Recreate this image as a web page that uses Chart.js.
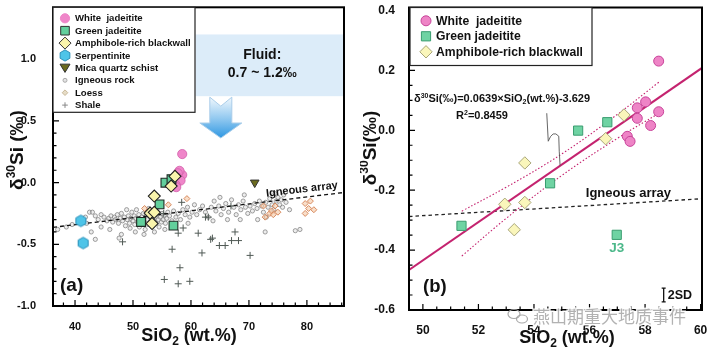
<!DOCTYPE html>
<html><head><meta charset="utf-8">
<script src="https://cdn.jsdelivr.net/npm/chart.js@4.4.1/dist/chart.umd.min.js"></script>
<style>
html,body{margin:0;padding:0;background:#fff;}
#wrap{position:relative;width:720px;height:350px;background:#fff;}
#ca{position:absolute;left:0;top:0;}
#cb{position:absolute;left:360px;top:0;}
</style></head><body>
<div id="wrap"><canvas id="ca" width="360" height="350"></canvas><canvas id="cb" width="360" height="350"></canvas></div>
<script>
// ---------------- DATA ----------------
const whiteSiO2 = [58.49, 58.49, 58.02, 57.72, 57.72, 58.20, 57.36, 57.46];
const whiteD    = [0.231, 0.062, 0.095, 0.075, 0.040, 0.016, -0.020, -0.037];
const greenSiO2 = [55.59, 56.64, 54.58, 51.39, 56.98];
const greenD    = [-0.001, 0.027, -0.177, -0.319, -0.349];
const amphSiO2  = [57.24, 56.58, 53.67, 52.95, 53.67, 53.29];
const amphD     = [0.051, -0.028, -0.109, -0.247, -0.241, -0.332];
const serpSiO2  = [41.0, 41.4];
const serpD     = [-0.31, -0.49];
const micaSiO2  = [71.0];
const micaD     = [0.0];
const igneousRock = [
 [37.0,-0.38],[38.5,-0.36],[39.5,-0.34],[42.0,-0.33],[42.5,-0.24],[43.0,-0.24],[43.5,-0.27],[44.0,-0.30],[44.5,-0.26],[45.0,-0.28],
 [43.5,-0.46],[44.5,-0.36],[45.5,-0.31],[42.8,-0.40],[41.8,-0.28],
 [45.8,-0.29],[46.2,-0.27],[46.5,-0.32],[46.8,-0.28],[47.0,-0.30],[47.3,-0.26],[47.5,-0.33],[47.8,-0.29],[48.0,-0.25],[48.2,-0.31],
 [48.5,-0.28],[48.7,-0.35],[48.9,-0.22],[49.0,-0.30],[49.2,-0.27],[49.4,-0.33],[49.6,-0.29],[49.8,-0.24],[48.0,-0.42],[47.6,-0.45],
 [46.0,-0.38],[49.5,-0.37],
 [50.0,-0.31],[50.2,-0.27],[50.3,-0.34],[50.5,-0.29],[50.6,-0.22],[50.8,-0.32],[51.0,-0.26],[51.1,-0.36],[51.3,-0.30],[51.5,-0.28],
 [51.6,-0.33],[51.8,-0.25],[52.0,-0.31],[52.1,-0.38],[52.3,-0.27],[52.5,-0.30],[52.6,-0.34],[52.8,-0.26],[53.0,-0.32],[53.1,-0.29],
 [53.3,-0.36],[53.5,-0.24],[53.6,-0.31],[53.8,-0.28],[54.0,-0.33],[54.2,-0.26],[54.4,-0.30],[54.5,-0.36],[54.7,-0.28],[54.9,-0.32],
 [55.0,-0.25],[55.2,-0.30],[55.4,-0.27],[55.6,-0.33],[55.8,-0.29],[56.0,-0.24],[50.4,-0.40],[51.9,-0.42],[53.7,-0.40],[55.5,-0.38],
 [52.7,-0.21],[54.1,-0.22],
 [56.3,-0.27],[56.7,-0.31],[57.0,-0.23],[57.4,-0.28],[57.8,-0.25],[58.2,-0.30],[58.6,-0.22],[59.0,-0.26],[59.4,-0.20],[59.8,-0.28],
 [60.2,-0.24],[60.6,-0.18],[61.0,-0.26],[61.5,-0.22],[57.2,-0.36],[59.5,-0.33],
 [62.0,-0.19],[62.5,-0.24],[63.0,-0.28],[63.5,-0.20],[64.0,-0.15],[64.3,-0.23],[64.8,-0.19],[65.2,-0.26],[65.6,-0.21],[66.0,-0.17],
 [66.5,-0.24],[67.0,-0.14],[67.4,-0.20],[67.8,-0.26],[68.2,-0.18],[68.6,-0.22],[69.0,-0.15],[69.4,-0.20],[69.8,-0.25],[66.3,-0.30],
 [68.5,-0.30],[69.2,-0.10],[65.0,-0.12],[63.8,-0.31],
 [70.2,-0.19],[70.6,-0.23],[71.0,-0.17],[71.4,-0.21],[71.8,-0.15],[72.2,-0.19],[72.5,-0.24],[72.9,-0.16],[73.3,-0.20],[73.6,-0.13],
 [74.0,-0.18],[74.3,-0.22],[74.7,-0.15],[75.0,-0.12],[75.3,-0.18],[75.6,-0.14],[76.0,-0.10],[76.4,-0.16],[73.0,-0.28],[72.8,-0.40],
 [78.0,-0.39],[78.8,-0.38],[77.0,-0.22],[71.5,-0.30],[74.5,-0.09],[75.8,-0.20]
];
const loess = [
 [52.0,-0.21],[56.1,-0.18],[59.3,-0.13],[72.5,-0.19],[72.8,-0.28],[73.6,-0.25],[73.9,-0.23],[74.2,-0.26],
 [74.5,-0.19],[75.0,-0.24],[79.7,-0.25],[79.7,-0.17],[80.3,-0.21],[80.6,-0.15],[81.2,-0.22]
];
const shale = [
 [48.2,-0.48],[56.75,-0.54],[58.1,-0.69],[55.4,-0.785],[57.8,-0.82],[59.8,-0.80],[61.9,-0.57],[70.2,-0.59],
 [58.65,-0.368],[57.8,-0.41],[61.25,-0.41],[63.4,-0.46],[63.7,-0.45],[64.9,-0.51],[65.9,-0.51],[67.0,-0.47],
 [68.2,-0.47],[67.6,-0.40],[63.0,-0.28],[58.4,-0.16],[62.5,-0.28],[66.9,-0.19],[55.3,-0.25]
];
// igneous array and regression lines (from equations)
const igneousArray = [0.00562, -0.566];      // slope, intercept
const regression   = [0.0639, -3.629];       // slope, intercept
const bandSiO2  = [51.4, 53.0, 55.0, 57.0, 58.5];
const bandUpper = [-0.270, -0.190, -0.079, 0.053, 0.161];
const bandLower = [-0.420, -0.294, -0.151, -0.027, 0.057];
// axes
const aXRange = [36.2, 86.4], aYRange = [-1.0, 1.42];
const bXRange = [49.5, 60.05], bYRange = [-0.6, 0.41];
const aXTicks = [40, 50, 60, 70, 80], aYTicks = [-1.0, -0.5, 0.0, 0.5, 1.0];
const bXTicks = [50, 52, 54, 56, 58, 60], bYTicks = [-0.6, -0.4, -0.2, 0.0, 0.2, 0.4];
// annotations (data units)
const fluidRange = [60.8, 0.7, 1.2];         // x start, y min, y max (‰)
const arrowPos = [65.15, 0.692, 0.361];      // x, top, bottom
const j3Index = 4;
const twoSD = [58.67, -0.55, 0.046];         // x, centre, length

// ---------------- HELPERS ----------------
const FONT = "'Liberation Sans', Arial, Helvetica, sans-serif";
const fnt = (s, w = 'bold') => `${w} ${s}px ${FONT}`;
const pts = (xs, ys) => xs.map((x, i) => ({x, y: ys[i]}));
const pairs = arr => arr.map(p => ({x: p[0], y: p[1]}));
const lineOf = (c, x0, x1) => [{x: x0, y: c[0] * x0 + c[1]}, {x: x1, y: c[0] * x1 + c[1]}];

function marker(ctx, type, x, y, r, fill, stroke, lw) {
  ctx.save(); ctx.beginPath();
  switch (type) {
    case 'circle': ctx.arc(x, y, r, 0, Math.PI * 2); break;
    case 'square': ctx.rect(x - r, y - r, 2 * r, 2 * r); break;
    case 'diamond': ctx.moveTo(x, y - r); ctx.lineTo(x + r, y); ctx.lineTo(x, y + r); ctx.lineTo(x - r, y); ctx.closePath(); break;
    case 'hex': for (let i = 0; i < 6; i++) { const t = -Math.PI / 2 + i * Math.PI / 3; const px = x + r * Math.cos(t), py = y + r * Math.sin(t); i ? ctx.lineTo(px, py) : ctx.moveTo(px, py); } ctx.closePath(); break;
    case 'triDown': ctx.moveTo(x - r, y - r * 0.75); ctx.lineTo(x + r, y - r * 0.75); ctx.lineTo(x, y + r * 0.9); ctx.closePath(); break;
    case 'plus': ctx.moveTo(x - r, y); ctx.lineTo(x + r, y); ctx.moveTo(x, y - r); ctx.lineTo(x, y + r); break;
  }
  if (fill && type !== 'plus') { ctx.fillStyle = fill; ctx.fill(); }
  if (stroke) { ctx.strokeStyle = stroke; ctx.lineWidth = lw || 1; ctx.stroke(); }
  ctx.restore();
}
function hexImage(r, fill, stroke) {
  const c = document.createElement('canvas'); const s = Math.ceil(2 * r + 3);
  c.width = s; c.height = s;
  marker(c.getContext('2d'), 'hex', s / 2, s / 2, r, fill, stroke, 1);
  return c;
}
function richWidth(ctx, parts) { let w = 0; for (const p of parts) { ctx.font = fnt(p.s); w += ctx.measureText(p.t).width; } return w; }
function drawRich(ctx, parts, x, y, align, color) {
  ctx.save(); ctx.fillStyle = color || '#111'; ctx.textAlign = 'left'; ctx.textBaseline = 'alphabetic';
  let cx = align === 'center' ? x - richWidth(ctx, parts) / 2 : x;
  for (const p of parts) { ctx.font = fnt(p.s); ctx.fillText(p.t, cx, y + (p.dy || 0)); cx += ctx.measureText(p.t).width; }
  ctx.restore();
}
function frameTicks(chart, xMinor, xMajor, yMinor, yMajor) {
  const {ctx, chartArea: a, scales: {x, y}} = chart;
  ctx.save(); ctx.strokeStyle = '#000'; ctx.lineWidth = 1.2; ctx.beginPath();
  const isMaj = (v, m) => Math.abs(v / m - Math.round(v / m)) < 1e-6;
  for (let i = Math.ceil(x.min / xMinor - 1e-9); i <= Math.floor(x.max / xMinor + 1e-9); i++) {
    const v = i * xMinor, px = x.getPixelForValue(v), L = isMaj(v, xMajor) ? 6 : 3.5;
    ctx.moveTo(px, a.bottom); ctx.lineTo(px, a.bottom - L);
  }
  for (let i = Math.ceil(y.min / yMinor - 1e-9); i <= Math.floor(y.max / yMinor + 1e-9); i++) {
    const v = i * yMinor, py = y.getPixelForValue(v), L = isMaj(v, yMajor) ? 6 : 3.5;
    ctx.moveTo(a.left, py); ctx.lineTo(a.left + L, py);
  }
  ctx.stroke();
  ctx.lineWidth = 2; ctx.strokeRect(a.left, a.top, a.right - a.left, a.bottom - a.top);
  ctx.restore();
}
function scaleOpts(range, ticks, fmt, size, pad, fit) {
  return {
    type: 'linear', min: range[0], max: range[1],
    afterBuildTicks: s => { s.ticks = ticks.map(v => ({value: v})); },
    afterFit: s => { fit(s); s.paddingTop = 0; s.paddingBottom = 0; s.paddingLeft = 0; s.paddingRight = 0; },
    grid: {display: false}, border: {display: false},
    ticks: {font: {family: FONT, weight: 'bold', size}, color: '#111', padding: pad, autoSkip: false, maxRotation: 0, callback: fmt}
  };
}
const common = {responsive: false, animation: false, events: [], plugins: {legend: {display: false}, tooltip: {enabled: false}}};

// ---------------- PANEL A ----------------
const pinkFill = '#ef86c9', pinkEdge = '#d35fab';
const greenFill = '#62cf9c', yellowFill = '#f9f4ac', cyanFill = '#4ec4e8', cyanEdge = '#2b8fb8', olive = '#6a6a1e';

const pluginA = {
  id: 'decorA',
  beforeDatasetsDraw(chart) {
    const {ctx, chartArea: a, scales: {x, y}} = chart;
    const x0 = x.getPixelForValue(fluidRange[0]), y0 = y.getPixelForValue(fluidRange[2]), y1 = y.getPixelForValue(fluidRange[1]);
    ctx.save(); ctx.fillStyle = '#dcecf9'; ctx.fillRect(x0, y0, a.right - x0, y1 - y0);
    ctx.fillStyle = '#111'; ctx.textAlign = 'center'; ctx.textBaseline = 'middle'; ctx.font = fnt(14);
    const tx = x.getPixelForValue(72.3);
    ctx.fillText('Fluid:', tx, y.getPixelForValue(1.032));
    ctx.fillText('0.7 ~ 1.2\u2030', tx, y.getPixelForValue(0.884));
    const cx = x.getPixelForValue(arrowPos[0]), top = y.getPixelForValue(arrowPos[1]), bot = y.getPixelForValue(arrowPos[2]);
    const g = ctx.createLinearGradient(0, top, 0, bot);
    g.addColorStop(0, '#f2f8fd'); g.addColorStop(0.55, '#8cc6ef'); g.addColorStop(1, '#2f97e2');
    ctx.beginPath();
    ctx.moveTo(cx - 11, top); ctx.lineTo(cx, top + 9); ctx.lineTo(cx + 11, top);
    ctx.lineTo(cx + 11, bot - 15); ctx.lineTo(cx + 21, bot - 15); ctx.lineTo(cx, bot);
    ctx.lineTo(cx - 21, bot - 15); ctx.lineTo(cx - 11, bot - 15); ctx.closePath();
    ctx.fillStyle = g; ctx.fill(); ctx.strokeStyle = '#a9cde9'; ctx.lineWidth = 1; ctx.stroke();
    ctx.restore();
  },
  afterDatasetsDraw(chart) {
    const {ctx, chartArea: a, scales: {x, y}} = chart;
    frameTicks(chart, 2, 10, 0.1, 0.5);
    const lx = 79.3, ly = igneousArray[0] * lx + igneousArray[1];
    const px = x.getPixelForValue(lx), py = y.getPixelForValue(ly);
    const ang = Math.atan2(y.getPixelForValue(igneousArray[0] * 80 + igneousArray[1]) - y.getPixelForValue(igneousArray[0] * 70 + igneousArray[1]), x.getPixelForValue(80) - x.getPixelForValue(70));
    ctx.save(); ctx.translate(px, py); ctx.rotate(ang); ctx.fillStyle = '#111'; ctx.font = fnt(11);
    ctx.textAlign = 'center'; ctx.textBaseline = 'alphabetic'; ctx.fillText('Igneous array', 0, -5); ctx.restore();
    ctx.save(); ctx.fillStyle = '#111'; ctx.font = fnt(19); ctx.textAlign = 'left'; ctx.textBaseline = 'middle';
    ctx.fillText('(a)', a.left + 7, a.bottom - 20); ctx.restore();
    const L = a.left, T = a.top, W = 142, H = 105;
    ctx.save(); ctx.fillStyle = '#fff'; ctx.fillRect(L, T, W, H); ctx.strokeStyle = '#222'; ctx.lineWidth = 1.2; ctx.strokeRect(L, T, W, H);
    const items = [
      ['circle', 4.6, pinkFill, pinkFill, 'White  jadeitite'],
      ['square', 4.3, greenFill, '#333', 'Green jadeitite'],
      ['diamond', 6, yellowFill, '#333', 'Amphibole-rich blackwall'],
      ['hex', 5.6, cyanFill, cyanEdge, 'Serpentinite'],
      ['triDown', 5, olive, '#333', 'Mica quartz schist'],
      ['circle', 2, '#e4e4e4', '#aaa', 'Igneous rock'],
      ['diamond', 2.8, '#e6dcc6', '#c9b99a', 'Loess'],
      ['plus', 2.8, null, '#888', 'Shale']
    ];
    items.forEach((it, i) => {
      const yy = T + 11 + i * 12.4;
      marker(ctx, it[0], L + 12, yy, it[1], it[2], it[3], 1);
      ctx.fillStyle = '#111'; ctx.font = fnt(9.6); ctx.textAlign = 'left'; ctx.textBaseline = 'middle';
      ctx.fillText(it[4], L + 22, yy + 0.5);
    });
    ctx.restore();
  },
  afterDraw(chart) {
    const {ctx} = chart;
    drawRich(ctx, [{t: 'SiO', s: 18}, {t: '2', s: 12, dy: 4}, {t: ' (wt.%)', s: 18}], 189, 341, 'center');
    ctx.save(); ctx.translate(16, 150); ctx.rotate(-Math.PI / 2);
    drawRich(ctx, [{t: '\u03b4', s: 19}, {t: '30', s: 12, dy: -8}, {t: 'Si (\u2030)', s: 19}], 0, 7, 'center');
    ctx.restore();
  }
};

new Chart(document.getElementById('ca'), {
  type: 'scatter',
  data: {datasets: [
    {data: lineOf(igneousArray, aXRange[0], aXRange[1]), showLine: true, borderColor: '#111', borderWidth: 1.3, borderDash: [4, 3], pointRadius: 0, order: 6},
    {data: pairs(igneousRock), pointStyle: 'circle', pointRadius: 2.1, backgroundColor: 'rgba(215,215,215,0.45)', borderColor: '#868686', borderWidth: 0.8, order: 9},
    {data: pairs(loess), pointStyle: 'rectRot', pointRadius: 3, backgroundColor: 'rgba(244,200,165,0.6)', borderColor: '#d88a5e', borderWidth: 1, order: 8},
    {data: pairs(shale), pointStyle: 'cross', pointRadius: 3.5, borderColor: '#505a55', borderWidth: 1, order: 7},
    {data: pts(whiteSiO2, whiteD), pointStyle: 'circle', pointRadius: 4.6, backgroundColor: pinkFill, borderColor: pinkEdge, borderWidth: 0.8, order: 5},
    {data: pts(serpSiO2, serpD), pointStyle: hexImage(5.8, cyanFill, cyanEdge), order: 4},
    {data: pts(greenSiO2, greenD), pointStyle: 'rect', pointRadius: 6.2, backgroundColor: greenFill, borderColor: '#1f2a24', borderWidth: 1.1, order: 3},
    {data: pts(amphSiO2, amphD), pointStyle: 'rectRot', pointRadius: 6, backgroundColor: yellowFill, borderColor: '#1f1f1f', borderWidth: 1.1, order: 2},
    {data: pts(micaSiO2, micaD), pointStyle: 'triangle', rotation: 180, pointRadius: 5, backgroundColor: olive, borderColor: '#333', borderWidth: 1, order: 1}
  ]},
  options: Object.assign({}, common, {
    layout: {padding: {left: 0, right: 16, top: 5, bottom: 0}},
    scales: {
      x: scaleOpts(aXRange, aXTicks, v => String(v), 11, 6, s => { s.height = 44; }),
      y: scaleOpts(aYRange, aYTicks, v => v.toFixed(1), 11, 9, s => { s.width = 53; })
    }
  }),
  plugins: [pluginA]
});

// ---------------- PANEL B ----------------
const pinkFillB = '#ee84c6', pinkEdgeB = '#c8449a';
const regColor = '#c4236f';
const pluginB = {
  id: 'decorB',
  afterDatasetsDraw(chart) {
    const {ctx, chartArea: a, scales: {x, y}} = chart;
    frameTicks(chart, 0.5, 2, 0.05, 0.2);
    ctx.save(); ctx.fillStyle = '#111'; ctx.textBaseline = 'middle';
    ctx.font = fnt(13); ctx.textAlign = 'center';
    const lx = 57.4; ctx.fillText('Igneous array', x.getPixelForValue(lx), y.getPixelForValue(igneousArray[0] * lx + igneousArray[1]) - 10);
    ctx.font = fnt(18.5); ctx.textAlign = 'left'; ctx.fillText('(b)', a.left + 14, a.bottom - 23);
    ctx.fillStyle = '#4cb88a'; ctx.font = fnt(13.5); ctx.textAlign = 'center';
    ctx.fillText('J3', x.getPixelForValue(greenSiO2[j3Index]), y.getPixelForValue(greenD[j3Index]) + 13);
    const sx = x.getPixelForValue(twoSD[0]), sy0 = y.getPixelForValue(twoSD[1] + twoSD[2] / 2), sy1 = y.getPixelForValue(twoSD[1] - twoSD[2] / 2);
    ctx.strokeStyle = '#111'; ctx.lineWidth = 1.3; ctx.beginPath();
    ctx.moveTo(sx, sy0); ctx.lineTo(sx, sy1); ctx.moveTo(sx - 2, sy0); ctx.lineTo(sx + 2, sy0); ctx.moveTo(sx - 2, sy1); ctx.lineTo(sx + 2, sy1); ctx.stroke();
    ctx.fillStyle = '#111'; ctx.font = fnt(12.5); ctx.textAlign = 'left'; ctx.fillText('2SD', sx + 4, (sy0 + sy1) / 2 + 0.5);
    ctx.restore();
    const eqY = y.getPixelForValue(0.095);
    drawRich(ctx, [{t: '\u03b4', s: 11}, {t: '30', s: 7, dy: -4}, {t: 'Si(\u2030)=0.0639\u00d7SiO', s: 11}, {t: '2', s: 7, dy: 2}, {t: '(wt.%)-3.629', s: 11}], a.left + 5, eqY, 'left');
    drawRich(ctx, [{t: 'R', s: 11}, {t: '2', s: 7, dy: -4}, {t: '=0.8459', s: 11}], a.left + 73, eqY + 17, 'center');
    const S = {x: x.getPixelForValue(54.46), y: y.getPixelForValue(0.057)};
    const E = {x: x.getPixelForValue(54.94), y: y.getPixelForValue(-0.118)};
    ctx.save(); ctx.strokeStyle = '#555'; ctx.lineWidth = 0.9; ctx.beginPath();
    ctx.moveTo(S.x, S.y); ctx.lineTo(S.x + 1.5, S.y + 28);
    ctx.quadraticCurveTo(S.x + 6, S.y + 16, S.x + 12, S.y + 23);
    ctx.quadraticCurveTo(E.x - 1, (S.y + E.y) / 2 + 12, E.x, E.y);
    ctx.stroke(); ctx.restore();
    const L = a.left + 1, T = a.top, W = 182, H = 58;
    ctx.save(); ctx.fillStyle = '#fff'; ctx.fillRect(L, T, W, H); ctx.strokeStyle = '#222'; ctx.lineWidth = 1.2; ctx.strokeRect(L, T, W, H);
    const items = [
      ['circle', 5, pinkFillB, pinkEdgeB, 'White  jadeitite'],
      ['square', 4.6, '#6fd3a3', '#3a9d70', 'Green jadeitite'],
      ['diamond', 6.2, '#faf6bb', '#a9a67a', 'Amphibole-rich blackwall']
    ];
    items.forEach((it, i) => {
      const yy = T + 13.3 + i * 15.5;
      marker(ctx, it[0], L + 16, yy, it[1], it[2], it[3], 1);
      ctx.fillStyle = '#111'; ctx.font = fnt(12.2); ctx.textAlign = 'left'; ctx.textBaseline = 'middle';
      ctx.fillText(it[4], L + 26, yy + 0.5);
    });
    ctx.restore();
  },
  afterDraw(chart) {
    const {ctx} = chart;
    drawRich(ctx, [{t: 'SiO', s: 18}, {t: '2', s: 12, dy: 4}, {t: ' (wt.%)', s: 18}], 207, 343, 'center');
    ctx.save(); ctx.translate(9, 148); ctx.rotate(-Math.PI / 2);
    drawRich(ctx, [{t: '\u03b4', s: 19}, {t: '30', s: 12, dy: -8}, {t: 'Si(\u2030)', s: 19}], 0, 7, 'center');
    ctx.restore();
    ctx.save();
    ctx.font = `17px 'Noto Sans CJK SC', sans-serif`; ctx.textAlign = 'left'; ctx.textBaseline = 'middle';
    ctx.strokeStyle = 'rgba(255,255,255,0.9)'; ctx.lineWidth = 3; ctx.strokeText('燕山期重大地质事件', 173, 317);
    ctx.fillStyle = 'rgba(165,165,165,0.85)'; ctx.fillText('燕山期重大地质事件', 173, 317);
    ctx.strokeStyle = 'rgba(160,160,160,0.9)'; ctx.lineWidth = 1.2;
    ctx.beginPath(); ctx.ellipse(154, 314, 6, 4.5, 0, 0, Math.PI * 2); ctx.stroke();
    ctx.beginPath(); ctx.ellipse(162, 319, 5.5, 4, 0, 0, Math.PI * 2); ctx.stroke();
    ctx.restore();
  }
};

new Chart(document.getElementById('cb'), {
  type: 'scatter',
  data: {datasets: [
    {data: lineOf(igneousArray, bXRange[0], bXRange[1]), showLine: true, borderColor: '#222', borderWidth: 1.3, borderDash: [3.5, 3], pointRadius: 0, order: 7},
    {data: lineOf(regression, bXRange[0], bXRange[1]), showLine: true, borderColor: regColor, borderWidth: 2, pointRadius: 0, order: 6},
    {data: pts(bandSiO2, bandUpper), showLine: true, tension: 0.4, borderColor: regColor, borderWidth: 1.1, borderDash: [1.5, 2], pointRadius: 0, order: 6},
    {data: pts(bandSiO2, bandLower), showLine: true, tension: 0.4, borderColor: regColor, borderWidth: 1.1, borderDash: [1.5, 2], pointRadius: 0, order: 6},
    {data: pts(whiteSiO2, whiteD), pointStyle: 'circle', pointRadius: 5, backgroundColor: pinkFillB, borderColor: pinkEdgeB, borderWidth: 1, order: 3},
    {data: pts(greenSiO2, greenD), pointStyle: 'rect', pointRadius: 6.5, backgroundColor: '#6fd3a3', borderColor: '#3a9d70', borderWidth: 1, order: 2},
    {data: pts(amphSiO2, amphD), pointStyle: 'rectRot', pointRadius: 6.2, backgroundColor: '#faf6bb', borderColor: '#a9a67a', borderWidth: 1, order: 1}
  ]},
  options: Object.assign({}, common, {
    layout: {padding: {left: 0, right: 18, top: 5, bottom: 0}},
    scales: {
      x: scaleOpts(bXRange, bXTicks, v => String(v), 12, 5, s => { s.height = 40; }),
      y: scaleOpts(bYRange, bYTicks, v => v.toFixed(1), 12, 6, s => { s.width = 49; })
    }
  }),
  plugins: [pluginB]
});
</script>
</body></html>
